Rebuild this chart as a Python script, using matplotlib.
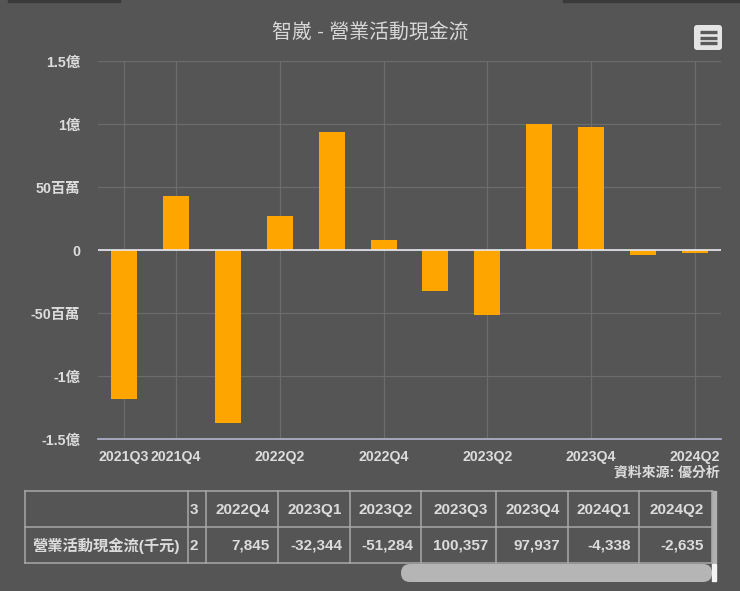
import matplotlib
matplotlib.use('Agg')
from matplotlib import pyplot as plt
from matplotlib.patches import FancyBboxPatch, Rectangle
from matplotlib.transforms import ScaledTranslation

plt.rcParams['font.family'] = ['Liberation Sans', 'Noto Sans CJK TC', 'DejaVu Sans']

# Chart data, quarterly operating cash flow (thousand NTD).
quarters = ['2021Q3', '2021Q4', '2022Q1', '2022Q2', '2022Q3', '2022Q4',
            '2023Q1', '2023Q2', '2023Q3', '2023Q4', '2024Q1', '2024Q2']
cash_flow = [-118000, 43000, -137000, 27000, 94000, 7845,
             -32344, -51284, 100357, 97937, -4338, -2635]
y_ticks = [-150000, -100000, -50000, 0, 50000, 100000, 150000]
y_labels = ['-1.5億', '-1億', '-50百萬', '0', '50百萬', '1億', '1.5億']
x_ticks = ['2021Q3', '2021Q4', '2022Q2', '2022Q4', '2023Q2', '2023Q4', '2024Q2']

# Table contents, the first visible columns are scrolled off to the left.
table_head = ['', '3', '2022Q4', '2023Q1', '2023Q2', '2023Q3', '2023Q4', '2024Q1', '2024Q2']
table_row = ['營業活動現金流(千元)', '2', '7,845', '-32,344', '-51,284', '100,357',
             '97,937', '-4,338', '-2,635']
col_edges = [25, 188, 206, 278, 350, 421, 496, 568, 639, 712]
row_edges = [491, 527, 563]

BG = '#555555'
TEXT = '#dcdcdc'
W, H = 740, 591

fig = plt.figure(figsize=(W / 100, H / 100), dpi=100, facecolor=BG)

# Plot area
ax = fig.add_axes([98 / W, 1 - 439 / H, 623 / W, 378 / H], facecolor=BG)
ax.bar(range(len(cash_flow)), cash_flow, width=0.5, color='#ffa500', zorder=3)
ax.set_xlim(-0.5, 11.5)
ax.set_ylim(-150000, 150000)
ax.set_yticks(y_ticks)
ax.set_yticklabels(y_labels, fontsize=10.3, fontweight='bold', color=TEXT)
ax.set_xticks([quarters.index(q) for q in x_ticks])
ax.set_xticklabels(x_ticks, fontsize=10.2, fontweight='bold', color=TEXT)
ax.tick_params(length=0, axis='y', pad=13)
ax.tick_params(length=0, axis='x', pad=8)
for lab in ax.get_yticklabels():
    lab.set_transform(lab.get_transform() + ScaledTranslation(0, -0.7 / 72, fig.dpi_scale_trans))
ax.grid(True, color='#6c6c6c', linewidth=0.9, zorder=0)
for side in ['top', 'left', 'right']:
    ax.spines[side].set_visible(False)
ax.spines['bottom'].set_color('#b4b4d2')
ax.spines['bottom'].set_linewidth(1.2)
ax.axhline(0, color='#e8e8f4', linewidth=1.2, zorder=4)

# Everything outside the plot is placed in pixels
ov = fig.add_axes([0, 0, 1, 1], facecolor='none')
ov.set_xlim(0, W)
ov.set_ylim(H, 0)
ov.axis('off')

ov.add_patch(Rectangle((8, 0), 112, 1.5, color='#3a3a3a'))
ov.add_patch(Rectangle((563, 0), 177, 1.5, color='#3a3a3a'))

ov.text(370, 32, '智崴 - 營業活動現金流', fontsize=14.3, color='#d8d8d8', ha='center', va='center')
ov.text(720, 473, '資料來源: 優分析', fontsize=10, fontweight='bold', color=TEXT, ha='right', va='center')

# Menu button
ov.add_patch(FancyBboxPatch((695, 26), 26, 23, boxstyle='round,pad=1,rounding_size=3',
                            facecolor='#e4e4e4', edgecolor='none'))
for y in [32, 37.5, 43]:
    ov.plot([700, 717], [y, y], color='#5a5a5a', linewidth=2.4, solid_capstyle='butt')

# Table grid
for x in col_edges:
    ov.plot([x, x], [row_edges[0], row_edges[-1]], color='#a8a8a8', linewidth=1.1)
for y in row_edges:
    ov.plot([col_edges[0], col_edges[-1]], [y, y], color='#a8a8a8', linewidth=1.1)

for i, (head, val) in enumerate(zip(table_head, table_row)):
    if i == 1:
        ov.text(col_edges[i] + 2, 510, head, fontsize=11, fontweight='bold', color=TEXT, va='center')
        ov.text(col_edges[i] + 2, 546, val, fontsize=11, fontweight='bold', color=TEXT, va='center')
        continue
    right = col_edges[i + 1] - 8
    ov.text(right, 510, head, fontsize=11, fontweight='bold', color=TEXT, ha='right', va='center')
    ov.text(right, 546, val, fontsize=11, fontweight='bold', color=TEXT, ha='right', va='center')

# Scrollbars
ov.add_patch(Rectangle((712, 491), 4, 72, color='#b0b0b0'))
ov.add_patch(FancyBboxPatch((401, 564), 311, 18, boxstyle='round,pad=0,rounding_size=9',
                            facecolor='#b5b5b5', edgecolor='none'))
ov.add_patch(Rectangle((712, 564), 4, 17, color='#f4f4f4'))

fig.savefig('out.png', dpi=100, facecolor=BG)
